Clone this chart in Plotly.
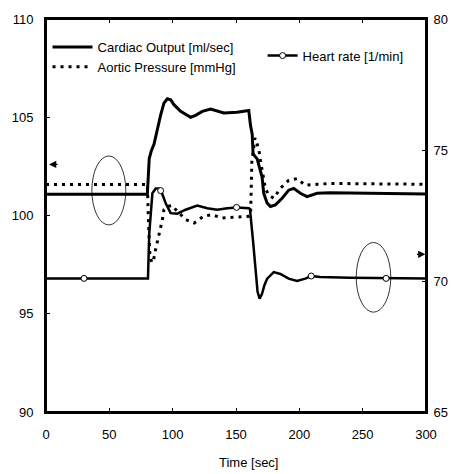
import plotly.graph_objects as go

# ---- data ----
co_t = [0, 80, 81.5, 83.2, 85.3, 88.0, 90.6, 93.1, 95.8, 98.4, 101.0, 106.3, 114.2, 118.1,
        123.4, 129.9, 135.2, 140.4, 150.9, 160.1, 161.4, 162.8, 163.5, 166.7, 170.6, 171.9,
        174.6, 177.2, 181.1, 186.4, 191.6, 195.5, 200.8, 206.1, 214.0, 224.4, 300]
co_v = [101.08, 101.08, 102.9, 103.30, 103.63, 104.47, 105.14, 105.72, 105.94, 105.89, 105.64,
        105.30, 105.00, 105.10, 105.30, 105.42, 105.30, 105.22, 105.25, 105.34, 104.6, 104.14,
        103.13, 102.88, 101.96, 101.13, 100.63, 100.46, 100.54, 100.88, 101.29, 101.38, 101.13,
        100.96, 101.13, 101.16, 101.10]

ap_t = [0, 80, 81, 82, 83.5, 84.8, 86.6, 89.2, 90.6, 91.9, 93.1, 95.8, 99.8, 102.5, 110.4,
        117.0, 124.4, 131.0, 138.8, 153.5, 160.1, 161.5, 162.5, 165.0, 168.0, 169.3, 170.6,
        171.9, 173.2, 175.8, 179.8, 185.0, 191.6, 198.2, 204.7, 213.9, 224.4, 300]
ap_v = [101.58, 101.58, 99.5, 98.0, 97.6, 97.7, 98.29, 98.96, 99.46, 99.79, 100.29, 100.46,
        100.51, 100.29, 99.79, 99.62, 99.96, 100.04, 99.87, 99.92, 99.96, 100.0, 102.7, 103.95,
        103.38, 102.80, 102.30, 101.79, 101.38, 101.04, 100.88, 101.38, 101.79, 101.88, 101.54,
        101.59, 101.63, 101.59]

hr_t = [0, 80.5, 81.5, 82.7, 84.0, 86.6, 89.2, 91.1, 94.5, 98.4, 103.7, 110.2, 119.4, 127.3,
        135.2, 143.1, 150.9, 160.1, 161.0, 163.5, 165.4, 167.0, 168.6, 170.5, 172.5, 174.6,
        179.8, 185.0, 191.6, 198.2, 204.7, 209.4, 216.5, 240.0, 300]
hr_v = [70.1, 70.1, 71.8, 72.59, 73.35, 73.53, 73.53, 73.41, 72.97, 72.59, 72.57, 72.72, 72.88,
        72.78, 72.72, 72.78, 72.81, 72.78, 72.75, 71.5, 70.34, 69.6, 69.33, 69.5, 69.85, 70.09,
        70.34, 70.27, 70.09, 70.0, 70.09, 70.19, 70.15, 70.12, 70.1]

hr_mark_t = [30, 90.5, 150.4, 209.4, 268.5]
hr_mark_v = [70.1, 73.45, 72.81, 70.19, 70.1]

x_ticks = [0, 50, 100, 150, 200, 250, 300]
y_ticks = [90, 95, 100, 105, 110]
y2_ticks = [65, 70, 75, 80]

FONT = "Liberation Sans, Arial, sans-serif"

fig = go.Figure()
fig.add_trace(go.Scatter(x=co_t, y=co_v, mode="lines", name="Cardiac Output [ml/sec]",
                         line=dict(color="black", width=3), legend="legend"))
fig.add_trace(go.Scatter(x=ap_t, y=ap_v, mode="lines", name="Aortic Pressure [mmHg]",
                         line=dict(color="black", width=3, dash="3px,5px"), legend="legend"))
fig.add_trace(go.Scatter(x=hr_t, y=hr_v, mode="lines", yaxis="y2", showlegend=False,
                         line=dict(color="black", width=2.5)))
fig.add_trace(go.Scatter(x=hr_mark_t, y=hr_mark_v, mode="markers", yaxis="y2", showlegend=False,
                         marker=dict(symbol="circle", size=6, color="white",
                                     line=dict(color="black", width=1))))
fig.add_trace(go.Scatter(x=[None], y=[None], mode="lines+markers", yaxis="y2",
                         name="Heart rate [1/min]", legend="legend2",
                         line=dict(color="black", width=2.5),
                         marker=dict(symbol="circle", size=6, color="white",
                                     line=dict(color="black", width=1))))

axis_common = dict(showgrid=False, zeroline=False, showline=True, linecolor="black",
                   linewidth=2, ticks="inside", ticklen=4, tickcolor="black",
                   tickfont=dict(family=FONT, size=13, color="black"))

fig.update_layout(
    width=462, height=474,
    margin=dict(l=45, r=36, t=13, b=62),
    paper_bgcolor="white", plot_bgcolor="white",
    font=dict(family=FONT, size=13, color="black"),
    xaxis=dict(range=[0, 300], tickvals=x_ticks, mirror="ticks", ticklabelstandoff=9,
               **axis_common),
    yaxis=dict(range=[90, 110], tickvals=y_ticks, ticklabelstandoff=8, **axis_common),
    yaxis2=dict(range=[65, 80], tickvals=y2_ticks, overlaying="y", side="right",
                ticklabelstandoff=3, **axis_common),
    legend=dict(x=0.004, y=0.967, xanchor="left", yanchor="top", bgcolor="rgba(0,0,0,0)",
                font=dict(family=FONT, size=13), tracegroupgap=0, itemwidth=40),
    legend2=dict(x=0.57, y=0.945, xanchor="left", yanchor="top", bgcolor="rgba(0,0,0,0)",
                 font=dict(family=FONT, size=13)),
    shapes=[
        dict(type="rect", xref="paper", yref="paper", x0=0, x1=1, y0=0, y1=1,
             line=dict(color="black", width=2), layer="above"),
        dict(type="circle", xref="x", yref="y", x0=36.2, x1=63.0, y0=99.52, y1=103.03,
             line=dict(color="black", width=0.8)),
        dict(type="circle", xref="x", yref="y2", x0=244.9, x1=272.2, y0=68.81, y1=71.47,
             line=dict(color="black", width=0.8)),
    ],
    annotations=[
        dict(x=2.4, y=102.6, xref="x", yref="y", ax=10, ay=0, text="", showarrow=True,
             arrowhead=2, arrowsize=1.2, arrowwidth=1.2, arrowcolor="black"),
        dict(x=299.5, y=71.02, xref="x", yref="y2", ax=-10, ay=0, text="", showarrow=True,
             arrowhead=2, arrowsize=1.2, arrowwidth=1.2, arrowcolor="black"),
        dict(text="Time [sec]", x=0.533, y=0, xref="paper", yref="paper", showarrow=False,
             xanchor="center", yanchor="middle", yshift=-50,
             font=dict(family=FONT, size=13, color="black")),
    ],
)

fig.write_html("out.html")
